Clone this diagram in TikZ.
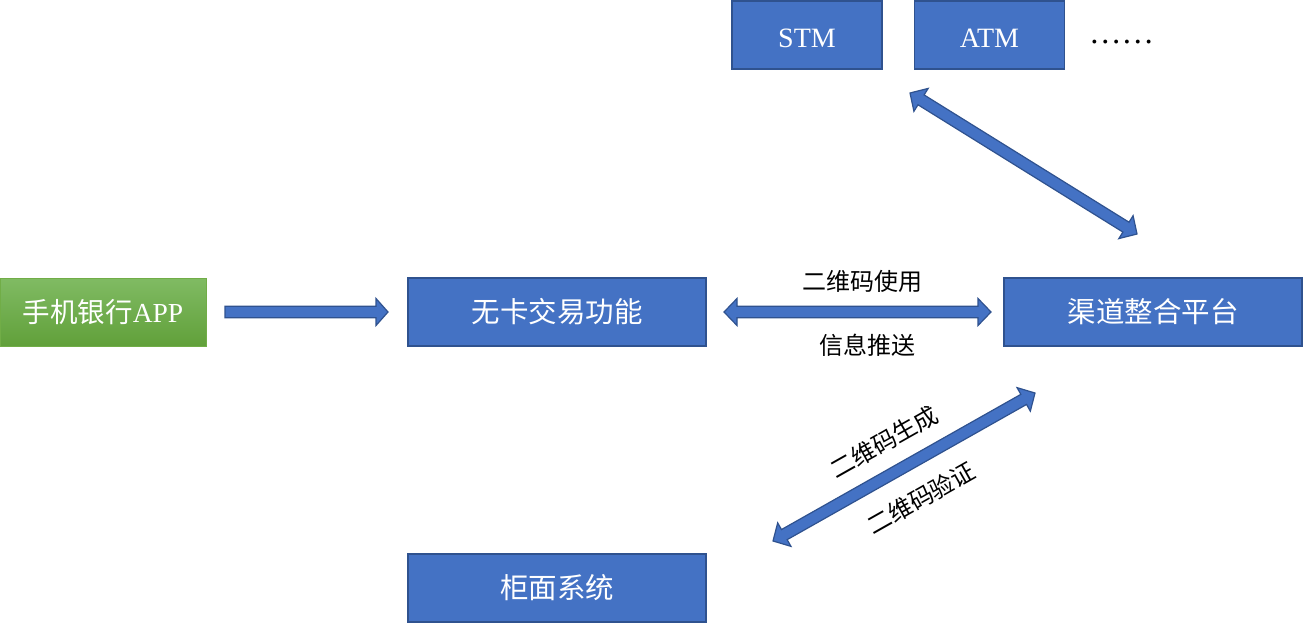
\documentclass[tikz,border=0pt]{standalone}
\usepackage{fontspec}
\setmainfont{Liberation Serif}
\newfontfamily\cjk{Noto Sans CJK SC}
\usetikzlibrary{calc}
\definecolor{boxblue}{HTML}{4472C4}
\definecolor{boxedge}{HTML}{2F528F}
\definecolor{gtop}{HTML}{80BB63}
\definecolor{gbot}{HTML}{61A03A}
\definecolor{gedge}{HTML}{71AD47}
\tikzset{
  bluebox/.style={draw=boxedge, line width=1.5pt, fill=boxblue, text=white, minimum width=298pt, minimum height=68pt, inner sep=0pt, font=\fontsize{28.5}{31}\selectfont\cjk},
  smallbox/.style={bluebox, minimum width=150pt, font=\fontsize{28}{31}\selectfont},
  greenbox/.style={draw=gedge, line width=1pt, top color=gtop, bottom color=gbot, text=white, minimum width=206pt, minimum height=68pt, inner sep=0pt, font=\fontsize{27.5}{30}\selectfont},
  lbl/.style={font=\fontsize{24}{27}\selectfont\cjk, text=black, inner sep=0pt},
  barrow/.style={draw=boxedge, line width=1.2pt, fill=boxblue, line join=miter},
}
% double block arrow between coordinates #1 and #2
\newcommand\dblarrow[2]{%
  \path ($(#1)!13pt!(#2)$) coordinate (#1h) ($(#2)!13pt!(#1)$) coordinate (#2h);
  \draw[barrow] (#1) -- ($(#1h)!13.5pt!90:(#2)$) -- ($(#1h)!5.8pt!90:(#2)$)
    -- ($(#2h)!5.8pt!-90:(#1)$) -- ($(#2h)!13.5pt!-90:(#1)$) -- (#2)
    -- ($(#2h)!13.5pt!90:(#1)$) -- ($(#2h)!5.8pt!90:(#1)$)
    -- ($(#1h)!5.8pt!-90:(#2)$) -- ($(#1h)!13.5pt!-90:(#2)$) -- cycle;}
% single block arrow from #1 (tail) to #2 (tip)
\newcommand\sglarrow[2]{%
  \path ($(#2)!12pt!(#1)$) coordinate (#2h);
  \draw[barrow] ($(#1)!5.8pt!90:(#2)$) -- ($(#2h)!5.8pt!-90:(#1)$) -- ($(#2h)!13.5pt!-90:(#1)$) -- (#2)
    -- ($(#2h)!13.5pt!90:(#1)$) -- ($(#2h)!5.8pt!90:(#1)$) -- ($(#1)!5.8pt!-90:(#2)$) -- cycle;}
\begin{document}
\begin{tikzpicture}[x=1pt,y=-1pt]
\useasboundingbox (0,0) rectangle (1303,623);
\node[greenbox] (app) at (103,312) {{\cjk 手机银行}APP};
\node[bluebox] (wuka) at (557,312) {无卡交易功能};
\node[bluebox] (qudao) at (1153,312) {渠道整合平台};
\node[bluebox] (guimian) at (557,588) {柜面系统};
\node[smallbox] (stm) at (807,35) {};
\node[smallbox] (atm) at (989.5,35) {};
\node[anchor=base, inner sep=0pt, text=white, font=\fontsize{28}{31}\selectfont] (stmt) at (807,48) {STM};
\node[anchor=base, inner sep=0pt, text=white, font=\fontsize{28}{31}\selectfont] (atmt) at (989.5,48) {ATM};
\node[anchor=base west, inner sep=0pt, font=\fontsize{32.5}{34}\selectfont] (dots) at (1089,44) {……};
% arrows
\coordinate (a1s) at (225,312); \coordinate (a1e) at (388,312);
\sglarrow{a1s}{a1e}
\coordinate (a2s) at (724,312); \coordinate (a2e) at (991,312);
\dblarrow{a2s}{a2e}
\coordinate (a3s) at (910,93); \coordinate (a3e) at (1137,234);
\dblarrow{a3s}{a3e}
\coordinate (a4s) at (773,541); \coordinate (a4e) at (1035,393);
\dblarrow{a4s}{a4e}
% labels
\node[lbl] (l1) at (862,281) {二维码使用};
\node[lbl] (l2) at (867,345) {信息推送};
\node[lbl, rotate=29.5] (l3) at (884,442) {二维码生成};
\node[lbl, rotate=29.5] (l4) at (921,498) {二维码验证};
\end{tikzpicture}
\end{document}
